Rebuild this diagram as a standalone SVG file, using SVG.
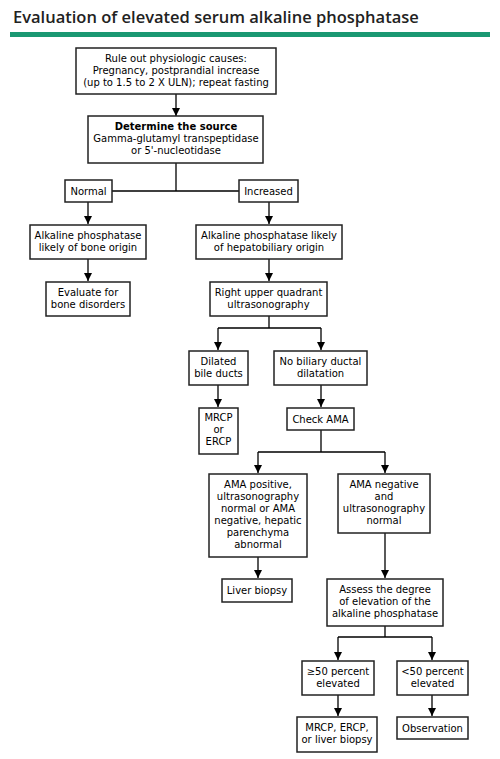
<svg xmlns="http://www.w3.org/2000/svg" width="500" height="759" viewBox="0 0 500 759">
<defs>
<marker id="ah" viewBox="0 0 10 10" refX="10" refY="5" markerWidth="8" markerHeight="8" markerUnits="userSpaceOnUse" orient="auto">
<path d="M0,0 L10,5 L0,10 Z" fill="#000"/>
</marker>
<style>
.b{fill:#fff;stroke:#222;stroke-width:1.5}
.t{font-family:"DejaVu Sans",Verdana,sans-serif;font-size:10px;fill:#000;text-anchor:middle}
.bold{font-weight:bold}
.c{fill:none;stroke:#000;stroke-width:1.3}
.a{fill:none;stroke:#000;stroke-width:1.3;marker-end:url(#ah)}
</style>
</defs>
<rect width="500" height="759" fill="#fff"/>
<text x="13" y="23" style="font-family:'Open Sans','Noto Sans',sans-serif;font-size:16.5px;font-weight:600;fill:#222">Evaluation of elevated serum alkaline phosphatase</text>
<rect x="10" y="32" width="480" height="5" fill="#1a9872"/>

<g id="connectors">
<path class="a" d="M176,94 V116"/>
<path class="c" d="M176,163 V191 M112,191 H239"/>
<path class="a" d="M88,202 V224"/>
<path class="a" d="M269,202 V224"/>
<path class="a" d="M88,259 V281"/>
<path class="a" d="M269,259 V281"/>
<path class="c" d="M269,316 V328 H218 M269,328 H321"/>
<path class="a" d="M218,328 V350"/>
<path class="a" d="M321,328 V350"/>
<path class="a" d="M218,385 V407"/>
<path class="a" d="M321,385 V407"/>
<path class="c" d="M321,430 V452 H258 M321,452 H385"/>
<path class="a" d="M258,452 V473"/>
<path class="a" d="M385,452 V473"/>
<path class="a" d="M258,557 V578"/>
<path class="a" d="M385,533 V578"/>
<path class="c" d="M385,626 V637 H338 M385,637 H432"/>
<path class="a" d="M338,637 V660"/>
<path class="a" d="M432,637 V660"/>
<path class="a" d="M338,695 V716"/>
<path class="a" d="M432,695 V716"/>
</g>

<g id="n1"><rect class="b" x="76" y="48" width="200" height="46"/>
<text class="t" x="176" y="62">Rule out physiologic causes:</text>
<text class="t" x="176" y="74">Pregnancy, postprandial increase</text>
<text class="t" x="176" y="86">(up to 1.5 to 2 X ULN); repeat fasting</text></g>

<g id="n2"><rect class="b" x="88" y="116" width="175" height="47"/>
<text class="t bold" x="176" y="130">Determine the source</text>
<text class="t" x="176" y="142">Gamma-glutamyl transpeptidase</text>
<text class="t" x="176" y="154">or 5'-nucleotidase</text></g>

<g id="n3"><rect class="b" x="65" y="180" width="47" height="22"/>
<text class="t" x="88.5" y="194.5">Normal</text></g>

<g id="n4"><rect class="b" x="239" y="180" width="59" height="22"/>
<text class="t" x="268.5" y="194.5">Increased</text></g>

<g id="n5"><rect class="b" x="30" y="225" width="116" height="34"/>
<text class="t" x="88" y="239">Alkaline phosphatase</text>
<text class="t" x="88" y="251">likely of bone origin</text></g>

<g id="n6"><rect class="b" x="196" y="225" width="146" height="34"/>
<text class="t" x="269" y="239">Alkaline phosphatase likely</text>
<text class="t" x="269" y="251">of hepatobiliary origin</text></g>

<g id="n7"><rect class="b" x="46" y="282" width="84" height="34"/>
<text class="t" x="88" y="296">Evaluate for</text>
<text class="t" x="88" y="308">bone disorders</text></g>

<g id="n8"><rect class="b" x="210" y="282" width="117" height="34"/>
<text class="t" x="268.5" y="296">Right upper quadrant</text>
<text class="t" x="268.5" y="308">ultrasonography</text></g>

<g id="n9"><rect class="b" x="189" y="351" width="59" height="34"/>
<text class="t" x="218.5" y="365">Dilated</text>
<text class="t" x="218.5" y="377">bile ducts</text></g>

<g id="n10"><rect class="b" x="274" y="351" width="93" height="34"/>
<text class="t" x="320.5" y="365">No biliary ductal</text>
<text class="t" x="320.5" y="377">dilatation</text></g>

<g id="n11"><rect class="b" x="199" y="408" width="39" height="46"/>
<text class="t" x="218.5" y="421">MRCP</text>
<text class="t" x="218.5" y="433">or</text>
<text class="t" x="218.5" y="445">ERCP</text></g>

<g id="n12"><rect class="b" x="287" y="408" width="67" height="22"/>
<text class="t" x="320.5" y="422.5">Check AMA</text></g>

<g id="n13"><rect class="b" x="209" y="474" width="98" height="83"/>
<text class="t" x="258" y="488">AMA positive,</text>
<text class="t" x="258" y="500">ultrasonography</text>
<text class="t" x="258" y="512">normal or AMA</text>
<text class="t" x="258" y="524">negative, hepatic</text>
<text class="t" x="258" y="536">parenchyma</text>
<text class="t" x="258" y="548">abnormal</text></g>

<g id="n14"><rect class="b" x="338" y="474" width="92" height="59"/>
<text class="t" x="384" y="488">AMA negative</text>
<text class="t" x="384" y="500">and</text>
<text class="t" x="384" y="512">ultrasonography</text>
<text class="t" x="384" y="524">normal</text></g>

<g id="n15"><rect class="b" x="222" y="579" width="70" height="23"/>
<text class="t" x="257" y="594">Liver biopsy</text></g>

<g id="n16"><rect class="b" x="327" y="579" width="116" height="47"/>
<text class="t" x="385" y="593">Assess the degree</text>
<text class="t" x="385" y="605">of elevation of the</text>
<text class="t" x="385" y="617">alkaline phosphatase</text></g>

<g id="n17"><rect class="b" x="302" y="661" width="72" height="34"/>
<text class="t" x="338" y="675">≥50 percent</text>
<text class="t" x="338" y="687">elevated</text></g>

<g id="n18"><rect class="b" x="397" y="661" width="71" height="34"/>
<text class="t" x="432.5" y="675">&lt;50 percent</text>
<text class="t" x="432.5" y="687">elevated</text></g>

<g id="n19"><rect class="b" x="297" y="717" width="80" height="35"/>
<text class="t" x="337" y="731">MRCP, ERCP,</text>
<text class="t" x="337" y="743">or liver biopsy</text></g>

<g id="n20"><rect class="b" x="397" y="717" width="71" height="22"/>
<text class="t" x="432.5" y="731.5">Observation</text></g>
</svg>
